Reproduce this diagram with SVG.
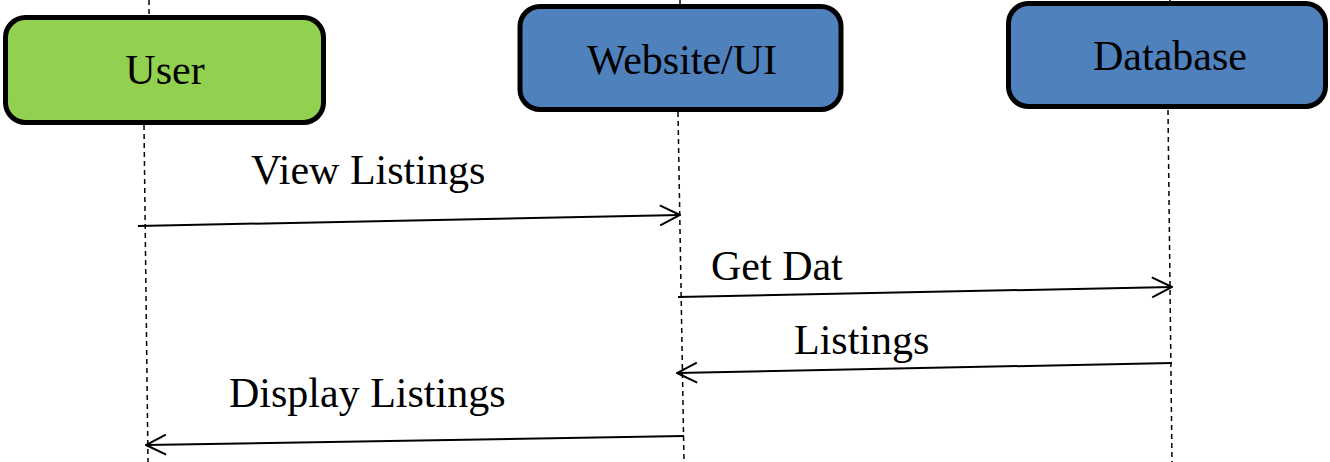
<svg xmlns="http://www.w3.org/2000/svg" width="1330" height="462" viewBox="0 0 1330 462">
  <defs>
    <style>
      .box { stroke: #000; stroke-width: 5; }
      .user { fill: #92d050; }
      .sys { fill: #4f81bd; }
      .label { font-family: "Liberation Serif", "Times New Roman", serif; font-size: 42px; fill: #000; }
      .life { stroke: #000; stroke-width: 1.5; stroke-dasharray: 5 4; fill: none; }
      .msg { stroke: #000; stroke-width: 2; fill: none; marker-end: url(#open); }
    </style>
    <marker id="open" viewBox="0 0 22 24" refX="21" refY="12" markerWidth="22" markerHeight="24" markerUnits="userSpaceOnUse" orient="auto">
      <path d="M1 2 L21 12 L1 22" fill="none" stroke="#000" stroke-width="2"/>
    </marker>
  </defs>

  <!-- lifelines -->
  <g id="lifelines">
    <line class="life" x1="149" y1="0" x2="149" y2="16"/>
    <line class="life" x1="144" y1="125" x2="148" y2="462"/>
    <line class="life" x1="680" y1="0" x2="680" y2="6"/>
    <line class="life" x1="678" y1="112" x2="684" y2="462"/>
    <line class="life" x1="1170" y1="0" x2="1170" y2="3"/>
    <line class="life" x1="1168" y1="110" x2="1172" y2="462"/>
  </g>

  <g id="user">
    <rect class="box user" x="5.5" y="17.5" width="318" height="105" rx="20"/>
    <text class="label" x="165" y="84" text-anchor="middle">User</text>
  </g>

  <g id="website">
    <rect class="box sys" x="520" y="6.5" width="321" height="103" rx="20"/>
    <text class="label" x="682" y="74" text-anchor="middle">Website/UI</text>
  </g>

  <g id="database">
    <rect class="box sys" x="1008.5" y="3.5" width="317" height="103" rx="20"/>
    <text class="label" x="1170" y="70" text-anchor="middle">Database</text>
  </g>

  <!-- messages -->
  <g id="connectors">
    <line class="msg" x1="138" y1="226" x2="680" y2="215"/>
    <line class="msg" x1="678" y1="297" x2="1172" y2="287"/>
    <line class="msg" x1="1172" y1="363" x2="677" y2="373"/>
    <line class="msg" x1="684" y1="436" x2="146" y2="445"/>
  </g>

  <g id="messageLabels">
    <text class="label" x="251" y="184">View Listings</text>
    <text class="label" x="711" y="280">Get Dat</text>
    <text class="label" x="794" y="354">Listings</text>
    <text class="label" x="229" y="407">Display Listings</text>
  </g>
</svg>
